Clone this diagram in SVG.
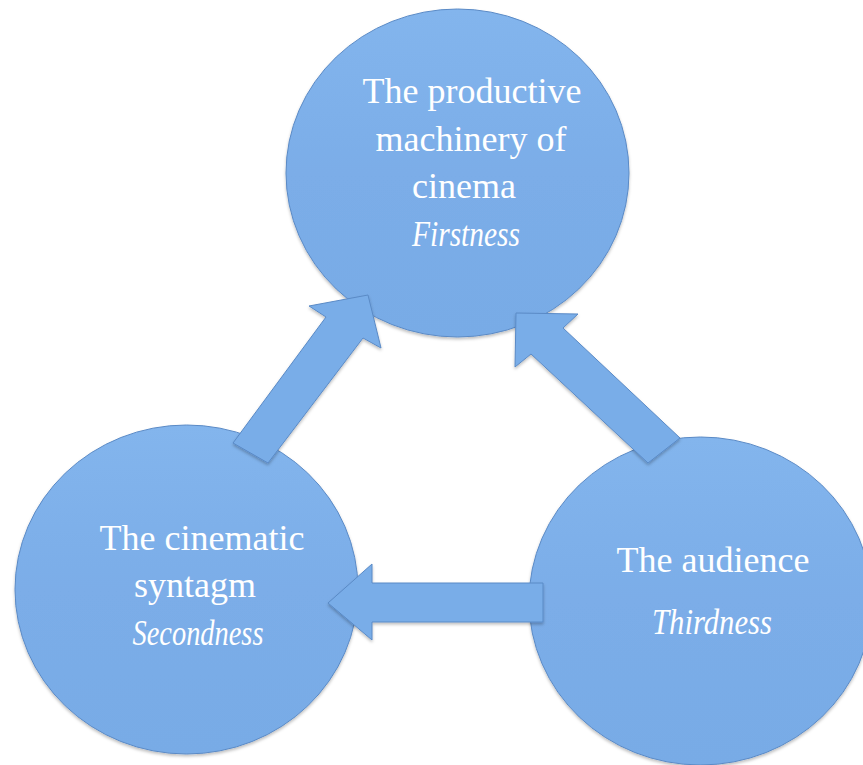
<svg xmlns="http://www.w3.org/2000/svg" width="863" height="765" viewBox="0 0 863 765">
  <defs>
    <linearGradient id="fill" x1="0" y1="0" x2="0" y2="1">
      <stop offset="0" stop-color="#83b5ed"/>
      <stop offset="0.5" stop-color="#7bade8"/>
      <stop offset="1" stop-color="#78abe6"/>
    </linearGradient>
    <filter id="sh" x="-10%" y="-10%" width="120%" height="125%">
      <feDropShadow dx="0" dy="2" stdDeviation="1.5" flood-color="#000" flood-opacity="0.25"/>
    </filter>
  </defs>
  <style>
    .node { fill: url(#fill); stroke: #5a8ac6; stroke-width: 1; filter: url(#sh); }
    .arrow { fill: #79ade8; stroke: #5a8ac6; stroke-width: 1; stroke-linejoin: miter; filter: url(#sh); }
    text { font-family: "Liberation Serif", "Times New Roman", serif; font-size: 36px; fill: #ffffff; text-anchor: middle; }
    .it { font-style: italic; }
  </style>
  <rect width="863" height="765" fill="#ffffff"/>

  <g id="node-firstness">
    <ellipse class="node" cx="457.5" cy="173" rx="171.5" ry="164"/>
  </g>
  <g id="node-secondness">
    <ellipse class="node" cx="186.5" cy="589.5" rx="171.5" ry="164.5"/>
  </g>
  <g id="node-thirdness">
    <ellipse class="node" cx="700.5" cy="601" rx="171.5" ry="164"/>
  </g>

  <g id="connectors">
    <polygon class="arrow" points="233,443 326,317 309,306 368,295 381,348 363,338 268,463"/>
    <polygon class="arrow" points="680,438 563,328 578,314 516,313 515,367 531,354 648,463"/>
    <polygon class="arrow" points="543,583 372,583 372,564 328,603 372,640 372,622 543,622"/>
  </g>

  <g id="labels-firstness">
    <text x="472" y="103">The productive</text>
    <text x="471" y="151">machinery of</text>
    <text x="464" y="198">cinema</text>
    <text class="it" x="466" y="246" textLength="108" lengthAdjust="spacingAndGlyphs">Firstness</text>
  </g>
  <g id="labels-secondness">
    <text x="202" y="550">The cinematic</text>
    <text x="195" y="597">syntagm</text>
    <text class="it" x="198" y="645" textLength="131" lengthAdjust="spacingAndGlyphs">Secondness</text>
  </g>
  <g id="labels-thirdness">
    <text x="713" y="572">The audience</text>
    <text class="it" x="712" y="634" textLength="120" lengthAdjust="spacingAndGlyphs">Thirdness</text>
  </g>
</svg>
